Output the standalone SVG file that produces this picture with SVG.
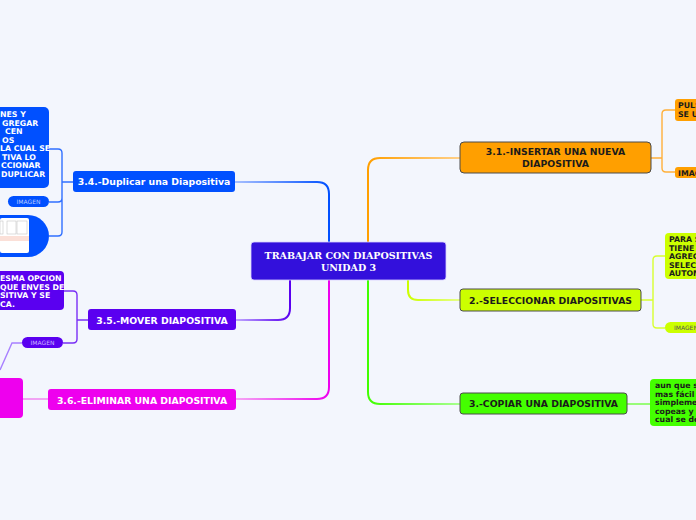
<svg xmlns="http://www.w3.org/2000/svg" width="696" height="520" viewBox="0 0 696 520">
<style>
.t{font-family:"DejaVu Sans",sans-serif;font-weight:bold;}
.main{font-size:9.3px;}
.sub{font-size:7.8px;}
.dark{fill:#1b1b1b;}
.light{fill:#ffffff;}
.img{font-size:6px;font-weight:normal;}
.c{fill:none;stroke-width:2;stroke-linecap:round;}
.s{fill:none;stroke-width:1.4;}
.nb{stroke:#4a4a4a;stroke-width:1;}
</style>
<defs>
<linearGradient id="g31" gradientUnits="userSpaceOnUse" x1="368" y1="0" x2="460" y2="0"><stop offset="0" stop-color="#ff9f00"/><stop offset="1" stop-color="#ffd08a"/></linearGradient>
<linearGradient id="g2" gradientUnits="userSpaceOnUse" x1="408" y1="0" x2="460" y2="0"><stop offset="0" stop-color="#ccff00"/><stop offset="1" stop-color="#e6ff8a"/></linearGradient>
<linearGradient id="g3" gradientUnits="userSpaceOnUse" x1="368" y1="0" x2="460" y2="0"><stop offset="0" stop-color="#40ff00"/><stop offset="1" stop-color="#a8ff90"/></linearGradient>
<linearGradient id="g34" gradientUnits="userSpaceOnUse" x1="329" y1="0" x2="235" y2="0"><stop offset="0" stop-color="#0050ff"/><stop offset="1" stop-color="#a8c0ff"/></linearGradient>
<linearGradient id="g35" gradientUnits="userSpaceOnUse" x1="290" y1="0" x2="236" y2="0"><stop offset="0" stop-color="#5a00f0"/><stop offset="1" stop-color="#c0a8ff"/></linearGradient>
<linearGradient id="g36" gradientUnits="userSpaceOnUse" x1="329" y1="0" x2="236" y2="0"><stop offset="0" stop-color="#ee00ee"/><stop offset="1" stop-color="#f5a8f5"/></linearGradient>
</defs>
<rect x="0" y="0" width="696" height="520" fill="#f3f6fd"/>

<g id="connectors">
<path class="c" stroke="url(#g31)" d="M368,242 V170 Q368,158 380,158 H460"/>
<path class="c" stroke="url(#g2)" d="M408,280 V290 Q408,300 418,300 H460"/>
<path class="c" stroke="url(#g3)" d="M368,280 V392 Q368,404 380,404 H460"/>
<path class="c" stroke="url(#g34)" d="M329,242 V194 Q329,182 317,182 H235"/>
<path class="c" stroke="url(#g35)" d="M290,280 V308 Q290,320 278,320 H236"/>
<path class="c" stroke="url(#g36)" d="M329,280 V387 Q329,399 317,399 H236"/>
<path class="s" stroke="#ffb03a" d="M651,158 H662 M675,110 H666 Q662,110 662,114 V168 Q662,172 666,172 H675"/>
<path class="s" stroke="#d8ff30" d="M641,300 H653 M665,256 H657 Q653,256 653,260 V324 Q653,328 657,328 H665"/>
<path class="s" stroke="#70ff40" d="M627,404 H650"/>
<path class="s" stroke="#3070ff" d="M73,182 H62 M49,149 H58 Q62,149 62,153 V232 Q62,236 58,236 H49 M49,202 H58 Q62,202 62,198"/>
<path class="s" stroke="#7a30f5" d="M88,320 H77 M63,291 H73 Q77,291 77,295 V339 Q77,343 73,343 H63"/>
<path class="s" stroke="#a880ff" d="M22,343 H12 L0,370"/>
<path class="s" stroke="#f080f0" d="M48,399 H23"/>
</g>

<g id="center">
<rect x="251" y="242" width="195" height="38" rx="3" fill="#3310dc" stroke="#d8d0ff" stroke-width="0.8"/>
<text x="348.5" y="259" text-anchor="middle" font-family="'DejaVu Serif',serif" font-weight="bold" font-size="9.5" fill="#ffffff">TRABAJAR CON DIAPOSITIVAS</text>
<text x="348.5" y="271" text-anchor="middle" font-family="'DejaVu Serif',serif" font-weight="bold" font-size="9.5" fill="#ffffff">UNIDAD 3</text>
</g>

<g id="n31">
<rect x="460" y="142" width="191" height="31" rx="4" fill="#ff9f00" class="nb"/>
<text class="t main dark" x="555.5" y="155" text-anchor="middle">3.1.-INSERTAR UNA NUEVA</text>
<text class="t main dark" x="555.5" y="167" text-anchor="middle">DIAPOSITIVA</text>
</g>
<g id="n31a">
<rect x="675" y="99" width="40" height="22" rx="3" fill="#ff9f00"/>
<text class="t sub dark" x="678" y="108">PULS</text>
<text class="t sub dark" x="678" y="117">SE U</text>
</g>
<g id="n31b">
<rect x="675" y="167" width="40" height="11" rx="3" fill="#ff9f00"/>
<text class="t sub dark" x="678" y="175.5">IMAG</text>
</g>

<g id="n2">
<rect x="460" y="289" width="181" height="22" rx="3" fill="#ccff00" class="nb"/>
<text class="t main dark" x="550.5" y="303.5" text-anchor="middle">2.-SELECCIONAR DIAPOSITIVAS</text>
</g>
<g id="n2a">
<rect x="665" y="233" width="50" height="46" rx="4" fill="#ccff00"/>
<text class="t sub dark" x="669" y="242">PARA S</text>
<text class="t sub dark" x="669" y="250.5">TIENE C</text>
<text class="t sub dark" x="669" y="259">AGREG</text>
<text class="t sub dark" x="669" y="267.5">SELECC</text>
<text class="t sub dark" x="669" y="276">AUTOM</text>
</g>
<g id="n2b">
<rect x="665" y="322" width="50" height="11" rx="5.5" fill="#ccff00"/>
<text class="t img" x="674" y="330" fill="#555">IMAGEN</text>
</g>

<g id="n3">
<rect x="460" y="393" width="167" height="21" rx="3" fill="#44ff00" class="nb"/>
<text class="t main dark" x="543.5" y="407" text-anchor="middle">3.-COPIAR UNA DIAPOSITIVA</text>
</g>
<g id="n3a">
<rect x="650" y="379" width="60" height="47" rx="4" fill="#44ff00"/>
<text class="t sub dark" x="655" y="388">aun que so</text>
<text class="t sub dark" x="655" y="396.5">mas fácil p</text>
<text class="t sub dark" x="655" y="405">simplemen</text>
<text class="t sub dark" x="655" y="413.5">copeas y la</text>
<text class="t sub dark" x="655" y="422">cual se des</text>
</g>

<g id="n34">
<rect x="73" y="171" width="162" height="21" rx="3" fill="#0050ff"/>
<text class="t main light" x="154" y="185" text-anchor="middle">3.4.-Duplicar una Diapositiva</text>
</g>
<g id="n34a">
<rect x="-20" y="107" width="69" height="81" rx="5" fill="#0050ff"/>
<text class="t sub light" x="0" y="117">NES Y</text>
<text class="t sub light" x="2" y="125.5">GREGAR</text>
<text class="t sub light" x="5" y="134">CEN</text>
<text class="t sub light" x="2" y="142.5">OS</text>
<text class="t sub light" x="0" y="151">LA CUAL SE</text>
<text class="t sub light" x="2" y="159.5">TIVA LO</text>
<text class="t sub light" x="1" y="168">CCIONAR</text>
<text class="t sub light" x="1" y="176.5">DUPLICAR</text>
</g>
<g id="n34b">
<rect x="8" y="196" width="41" height="11" rx="5.5" fill="#0050ff"/>
<text class="t img" x="28.5" y="204" text-anchor="middle" fill="#b8ccff">IMAGEN</text>
</g>
<g id="n34c">
<path d="M-10,215 H28 A21,21 0 0 1 28,257 H-10 Z" fill="#0050ff"/>
<rect x="0" y="218" width="29" height="35" rx="2" fill="#ffffff"/>
<rect x="0" y="221" width="3" height="13" fill="none" stroke="#bbb" stroke-width="0.5"/>
<rect x="7" y="221" width="9" height="13" fill="none" stroke="#bbb" stroke-width="0.5"/>
<rect x="17" y="221" width="10" height="13" fill="none" stroke="#bbb" stroke-width="0.5"/>
<rect x="0" y="236" width="29" height="5" fill="#fbe0d8"/>
</g>

<g id="n35">
<rect x="88" y="309" width="148" height="21" rx="3" fill="#5a00f0"/>
<text class="t main light" x="162" y="323.5" text-anchor="middle">3.5.-MOVER DIAPOSITIVA</text>
</g>
<g id="n35a">
<rect x="-20" y="271" width="84" height="39" rx="4" fill="#5a00f0"/>
<text class="t sub light" x="0" y="281">ESMA OPCION</text>
<text class="t sub light" x="0" y="289.5">QUE ENVES DE</text>
<text class="t sub light" x="0" y="298">SITIVA Y SE</text>
<text class="t sub light" x="0" y="306.5">CA.</text>
</g>
<g id="n35b">
<rect x="22" y="337" width="41" height="11" rx="5.5" fill="#5a00f0"/>
<text class="t img" x="42.5" y="345" text-anchor="middle" fill="#c8b8ff">IMAGEN</text>
</g>

<g id="n36">
<rect x="48" y="389" width="188" height="21" rx="3" fill="#ee00ee"/>
<text class="t main light" x="142" y="403.5" text-anchor="middle">3.6.-ELIMINAR UNA DIAPOSITIVA</text>
</g>
<g id="n36a">
<rect x="-20" y="378" width="43" height="40" rx="4" fill="#ee00ee"/>
</g>
</svg>
